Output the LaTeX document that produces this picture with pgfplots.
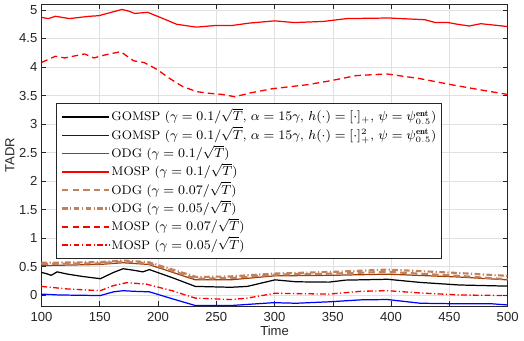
\documentclass[border=0pt]{standalone}
\usepackage{pgfplots}
\pgfplotsset{compat=1.18}
\usepackage{fontspec}
\newfontfamily\arial{Liberation Sans}
\definecolor{odgA}{rgb}{0.62,0.24,0.02}
\definecolor{odgB}{rgb}{0.76,0.50,0.36}
\definecolor{axgray}{rgb}{0.15,0.15,0.15}
\begin{document}
\begin{tikzpicture}
\begin{axis}[
  scale only axis,
  width=285pt, height=184.5pt,
  xmin=100, xmax=500, ymin=-0.19, ymax=5.1,
  xtick={100,150,...,500},
  ytick={0,0.5,...,5},
  tick align=inside,
  tick pos=both,
  major tick length=3pt,
  grid=major,
  major grid style={draw=black!12, line width=0.4pt},
  axis line style={draw=axgray, line width=0.5pt},
  every tick/.style={draw=axgray},
  /pgf/number format/assume math mode=true,
  tick label style={font=\arial\footnotesize, text=axgray},
  yticklabel style={xshift=1pt},
  label style={font=\arial\footnotesize, text=axgray},
  xlabel={Time}, ylabel={TADR},
  xlabel style={yshift=4pt},
  ylabel style={yshift=-4pt},
  legend image code/.code={\draw[#1] (0pt,0pt) -- (29pt,0pt);},
  legend cell align=left,
  legend style={at={(rel axis cs:0.032,0.672)}, anchor=north west,
    font=\fontsize{7.6}{9}\selectfont, draw=axgray, line width=0.5pt,
    nodes={text height=7.4pt, text depth=2.6pt, inner sep=0.6pt},
    row sep=0pt, inner sep=2.5pt},
]
% GOMSP [.]_+
\addplot[draw=black, line width=0.75pt, legend image post style={draw=black, line width=0.9pt}] coordinates {
(100,0.40) (104,0.38) (108.4,0.35) (113.4,0.41) (122.5,0.37) (135,0.33) (150.5,0.29)
(161.8,0.40) (170,0.465) (178.6,0.44) (187,0.41) (192.6,0.45) (212,0.31) (232,0.155)
(262.6,0.14) (276.6,0.155) (300.4,0.27) (318.7,0.236) (346.6,0.23) (360.7,0.265)
(397,0.28) (425,0.225) (458.6,0.18) (500,0.16)};
\addlegendentry{GOMSP ($\gamma=0.1/\sqrt{T}$, $\alpha=15\gamma$, $h(\cdot)=[\cdot]_{+}$, $\psi=\psi^{\mathbf{ent}}_{0.5}$)}
% GOMSP [.]_+^2
\addplot[draw=blue, line width=0.75pt, legend image post style={draw=blue, line width=0.9pt}] coordinates {
(100,0.02) (115,0.005) (150.5,-0.005) (161.8,0.06) (170,0.08) (178.6,0.07) (192.6,0.06)
(212,-0.06) (232,-0.18) (262.6,-0.18) (299,-0.13) (318.7,-0.14) (346.6,-0.115)
(374.6,-0.08) (397,-0.075) (425,-0.14) (458.6,-0.15) (486.7,-0.15) (500,-0.17)};
\addlegendentry{GOMSP ($\gamma=0.1/\sqrt{T}$, $\alpha=15\gamma$, $h(\cdot)=[\cdot]_{+}^{2}$, $\psi=\psi^{\mathbf{ent}}_{0.5}$)}
% ODG 0.1
\addplot[draw=odgA, line width=0.75pt, legend image post style={draw=odgA, line width=0.9pt}] coordinates {
(100,0.52) (150,0.54) (170,0.57) (192,0.54) (232,0.27) (262,0.27) (300,0.34)
(350,0.35) (397,0.37) (458,0.32) (500,0.27)};
\addlegendentry{ODG ($\gamma=0.1/\sqrt{T}$)}
% MOSP 0.1
\addplot[draw=red, line width=0.75pt, legend image post style={draw=red, line width=0.9pt}] coordinates {
(100,4.87) (106,4.85) (112,4.89) (124,4.85) (141,4.89) (149,4.90) (160,4.96)
(169,5.01) (175,4.98) (180,4.94) (191,4.96) (202,4.87) (216,4.75) (233,4.70)
(250,4.73) (264,4.73) (278,4.77) (300,4.81) (317,4.78) (342,4.80) (362,4.85)
(398,4.86) (429,4.83) (438,4.78) (449,4.78) (457,4.75) (467,4.72) (477,4.76)
(491,4.73) (500,4.71)};
\addlegendentry{MOSP ($\gamma=0.1/\sqrt{T}$)}
% ODG 0.07
\addplot[draw=odgB, line width=1.3pt, dash pattern=on 4pt off 2.5pt, legend image post style={draw=odgB, line width=1.3pt}] coordinates {
(100,0.55) (150,0.56) (170,0.59) (192,0.56) (233,0.29) (262,0.30) (300,0.36)
(350,0.38) (397,0.41) (458,0.34) (500,0.28)};
\addlegendentry{ODG ($\gamma=0.07/\sqrt{T}$)}
% ODG 0.05
\addplot[draw=odgB, line width=1.3pt, dash pattern=on 3.5pt off 1.5pt on 0.7pt off 1.5pt, legend image post style={draw=odgB, line width=1.3pt}] coordinates {
(100,0.57) (150,0.58) (170,0.61) (192,0.58) (233,0.32) (262,0.33) (300,0.38)
(350,0.41) (397,0.45) (458,0.39) (500,0.34)};
\addlegendentry{ODG ($\gamma=0.05/\sqrt{T}$)}
% MOSP 0.07
\addplot[draw=red, line width=0.8pt, dash pattern=on 4pt off 2.5pt, legend image post style={draw=red, line width=0.9pt}] coordinates {
(100,4.08) (112,4.19) (120,4.16) (137,4.23) (145,4.16) (154,4.21) (168,4.27)
(179,4.11) (188,4.08) (199,3.96) (210,3.80) (221,3.66) (233,3.57) (244,3.54)
(255,3.52) (266,3.48) (280,3.55) (298,3.62) (328,3.69) (348,3.76) (370,3.85)
(396,3.88) (424,3.80) (452,3.69) (474,3.61) (500,3.52)};
\addlegendentry{MOSP ($\gamma=0.07/\sqrt{T}$)}
% MOSP 0.05
\addplot[draw=red, line width=0.8pt, dash pattern=on 3.5pt off 1.5pt on 0.7pt off 1.5pt, legend image post style={draw=red, line width=0.9pt}] coordinates {
(100,0.155) (122.5,0.11) (150.5,0.08) (161.8,0.17) (173,0.22) (190,0.195) (212,0.08)
(232,-0.05) (262.6,-0.075) (276.6,-0.05) (300.4,0.035) (346.6,0.02) (374.6,0.07)
(397,0.08) (425,0.04) (458.6,0.005) (500,-0.005)};
\addlegendentry{MOSP ($\gamma=0.05/\sqrt{T}$)}
\end{axis}
\end{tikzpicture}
\end{document}
